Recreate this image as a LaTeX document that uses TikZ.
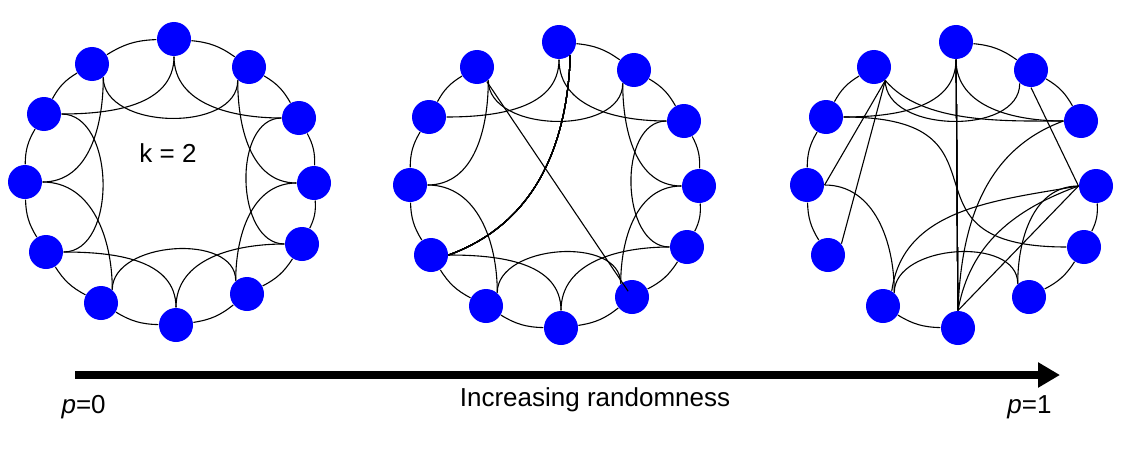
\documentclass[tikz,border=0pt]{standalone}
\usepackage{fontspec}
\setmainfont{Liberation Sans}
\usepackage{tikz}
\usetikzlibrary{arrows.meta}

% anchor and tangent of the hop curves, per ring position
\def\hopanc{{270,230,180,180,180,130,90,50,0,0,0,310}}
\def\hoptan{{270,270,180,180,180,90,90,90,0,0,0,270}}

\tikzset{
  vertex/.style={circle,fill=blue,inner sep=0pt,minimum size=34pt},
  txt/.style={font=\fontsize{26}{30}\selectfont,inner sep=0pt},
}

\newcommand{\ringnodes}[1]{%
  \foreach \i/\x/\y in {0/4/143,1/79/115,2/129/64,3/144/-1,4/132/-62,5/77/-112,
                        6/6/-143,7/-69/-121,8/-124/-70,9/-145/0,10/-126/68,11/-78/118}
    \node[vertex] (#1n\i) at (\x,\y) {};}

\newcommand{\hop}[3]{%
  \pgfmathtruncatemacro\ancA{\hopanc[#2]}%
  \pgfmathtruncatemacro\tanA{\hoptan[#2]}%
  \pgfmathtruncatemacro\ancB{\hopanc[#3]}%
  \pgfmathtruncatemacro\tanB{\hoptan[#3]}%
  \draw (#1n#2.\ancA) to[out=\tanA,in=\tanB] (#1n#3.\ancB);}

\begin{document}
\begin{tikzpicture}[x=1pt,y=1pt,line width=1.1pt]
\useasboundingbox (0,0) rectangle (1123,-452);

% regular ring, k = 2
\begin{scope}[shift={(170,-182)}]
\ringnodes{g1}
\foreach \i in {0,...,11} {
  \pgfmathtruncatemacro\j{mod(\i+1,12)}
  \pgfmathtruncatemacro\k{mod(\i+2,12)}
  \draw (g1n\i) to[bend left=15] (g1n\j);
  \hop{g1}{\i}{\k}
}
\node[txt,anchor=base] (klab) at (-2,20) {k = 2};
\end{scope}

% small world
\begin{scope}[shift={(555,-185)}]
\ringnodes{g2}
\foreach \i/\j in {0/1,1/2,2/3,3/4,4/5,5/6,6/7,7/8,8/9,9/10,10/11}
  \draw (g2n\i) to[bend left=15] (g2n\j);
\foreach \i/\j in {0/2,1/3,2/4,3/5,4/6,5/7,6/8,7/9,9/11,10/0,11/1}
  \hop{g2}{\i}{\j}
\draw (g2n0.310) to[out=268,in=20] (g2n8.east);
\draw[shorten >=7pt] (g2n11) -- (g2n5.center);
\end{scope}

% random
\begin{scope}[shift={(952,-185)}]
\ringnodes{g3}
\foreach \i/\j in {0/1,1/2,3/4,4/5,6/7,8/9,9/10,10/11}
  \draw (g3n\i) to[bend left=15] (g3n\j);
\foreach \i/\j in {0/2,3/5,5/7,7/9,10/0,11/1}
  \hop{g3}{\i}{\j}
\draw (g3n0) -- (g3n6);
\draw (g3n1.south) -- (g3n3.west);
\draw (g3n11.310) -- (g3n9.east);
\draw (g3n11.310) -- (g3n8.40);
\draw (g3n11.310) to[out=310,in=180,looseness=0.8] (g3n2.west);
\draw (g3n10.east) to[out=0,in=180,looseness=1.8] (g3n4.west);
\draw (g3n7.60) to[out=82,in=190] (g3n3.west);
\draw (g3n6.north) to[out=88,in=200] (g3n2.west);
\draw (g3n6.north) to[out=80,in=200] (g3n3.west);
\draw (g3n6.north) -- (g3n3.west);
\end{scope}

% randomness axis
\coordinate (pzero) at (75,-375);
\coordinate (pone) at (1060,-375);
\draw[line width=8pt,-{Triangle[length=22pt,width=24pt]}] (pzero) -- (pone);
\node[txt,anchor=base west] (plo) at (61,-413) {\textit{p}=0};
\node[txt,anchor=base east] (phi) at (1052,-413) {\textit{p}=1};
\node[txt,anchor=base] (axlab) at (595,-406) {Increasing randomness};
\end{tikzpicture}
\end{document}
